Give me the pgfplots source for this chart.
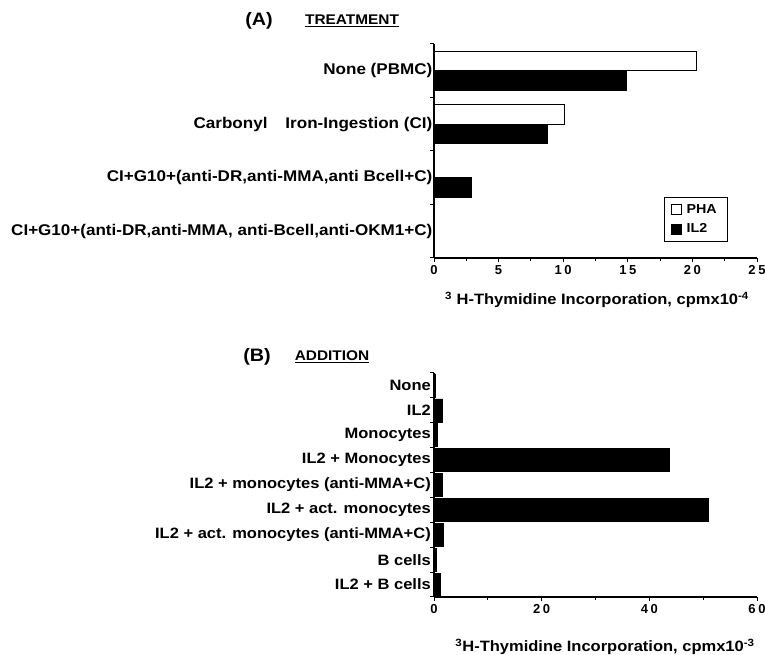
\documentclass[border=0pt]{standalone}
\usepackage{fontspec}
\setmainfont{Liberation Sans}
\newfontfamily\lab[FakeStretch=1.1, BoldFeatures={FakeStretch=1.1}]{Liberation Sans}
\newfontfamily\tickf[LetterSpace=20, BoldFeatures={LetterSpace=20}]{Liberation Sans}
\usepackage{pgfplots}
\pgfplotsset{compat=1.18}
\begin{document}
\begin{tikzpicture}[x=1pt,y=1pt]
\path[use as bounding box] (0,0) rectangle (765,655);
% ---------------- Panel A ----------------
\begin{axis}[at={(434pt,397pt)}, anchor=south west, scale only axis,
 width=323pt, height=214pt,
 xmin=0, xmax=25, ymin=-0.5, ymax=3.5,
 axis x line*=bottom, axis y line*=left,
 axis line style={line width=1.3pt},
 tick align=outside, major tick length=4pt, minor tick length=3pt,
 tick style={line width=1pt, black},
 xbar, bar width=19.5pt,
 xtick={0,5,...,25}, minor xtick={2.5,7.5,...,22.5},
 ytick={-0.5,0.5,1.5,2.5,3.5}, yticklabels={},
 extra y ticks={0,1,2,3},
 extra y tick labels={{CI+G10+(anti-DR,anti-MMA, anti-Bcell,anti-OKM1+C)},{CI+G10+(anti-DR,anti-MMA,anti Bcell+C)},{Carbonyl\hspace{18pt}Iron-Ingestion (CI)},{None (PBMC)}},
 extra y tick style={major tick length=0pt},
 yticklabel style={font=\lab\bfseries\fontsize{15.5}{17}\selectfont, inner xsep=1.5pt},
 xticklabel style={font=\tickf\bfseries\fontsize{13}{15}\selectfont},
 /pgf/number format/assume math mode=true,
 legend style={at={(0.712,0.075)}, anchor=south west, draw=black, line width=1.2pt,
   font=\lab\bfseries\fontsize{13}{15}\selectfont, row sep=5pt, inner xsep=6pt, inner ysep=5pt,
   nodes={inner xsep=5pt}},
 legend cell align=left,
 legend image code/.code={\draw[#1, line width=1pt] (0pt,-5pt) rectangle (10pt,5pt);},
]
\addplot[fill=white, draw=black, line width=1.2pt, bar shift=9.75pt] coordinates {(20.3,3) (10.1,2) (0,1) (0,0)};
\addplot[fill=black, draw=black, line width=1pt, bar shift=-9.75pt] coordinates {(14.9,3) (8.8,2) (2.9,1) (0,0)};
\legend{PHA,IL2}
\end{axis}
% ---------------- Panel B ----------------
\begin{axis}[at={(434pt,58pt)}, anchor=south west, scale only axis,
 width=323pt, height=224pt,
 xmin=0, xmax=60, ymin=-0.5, ymax=8.5,
 axis x line*=bottom, axis y line*=left,
 axis line style={line width=1.3pt},
 tick align=outside, major tick length=4pt, minor tick length=3pt,
 tick style={line width=1pt, black},
 xbar, bar width=23pt,
 xtick={0,20,40,60}, minor xtick={10,30,50},
 ytick={-0.5,0.5,...,8.5}, yticklabels={},
 extra y ticks={0,1,...,8},
 extra y tick labels={{IL2 + B cells},{B cells},{IL2 + act. monocytes (anti-MMA+C)},{IL2 + act. monocytes},{IL2 + monocytes (anti-MMA+C)},{IL2 + Monocytes},{Monocytes},{IL2},{None}},
 extra y tick style={major tick length=0pt},
 yticklabel style={font=\lab\bfseries\fontsize{15}{17}\selectfont, inner xsep=3pt},
 xticklabel style={font=\tickf\bfseries\fontsize{13}{15}\selectfont},
 /pgf/number format/assume math mode=true,
]
\addplot[fill=black, draw=black, line width=0.6pt] coordinates {(1.1,0) (0.4,1) (1.8,2) (51.0,3) (1.5,4) (43.8,5) (0.7,6) (1.6,7) (0.3,8)};
\end{axis}
% ---------------- Titles and axis labels ----------------
\node[font=\lab\bfseries\fontsize{18}{20}\selectfont] at (259,634) {(A)};
\node[font=\lab\bfseries\fontsize{14}{16}\selectfont] at (352,634) {\underline{TREATMENT}};
\node[font=\lab\bfseries\fontsize{18}{20}\selectfont] at (257,298) {(B)};
\node[font=\lab\bfseries\fontsize{14}{16}\selectfont] at (332,298) {\underline{ADDITION}};
\node[font=\lab\bfseries\fontsize{15}{17}\selectfont] at (597,355) {\textsuperscript{3} H-Thymidine Incorporation, cpmx10\textsuperscript{-4}};
\node[font=\lab\bfseries\fontsize{15}{17}\selectfont] at (605,8) {\textsuperscript{3}H-Thymidine Incorporation, cpmx10\textsuperscript{-3}};
\end{tikzpicture}
\end{document}
